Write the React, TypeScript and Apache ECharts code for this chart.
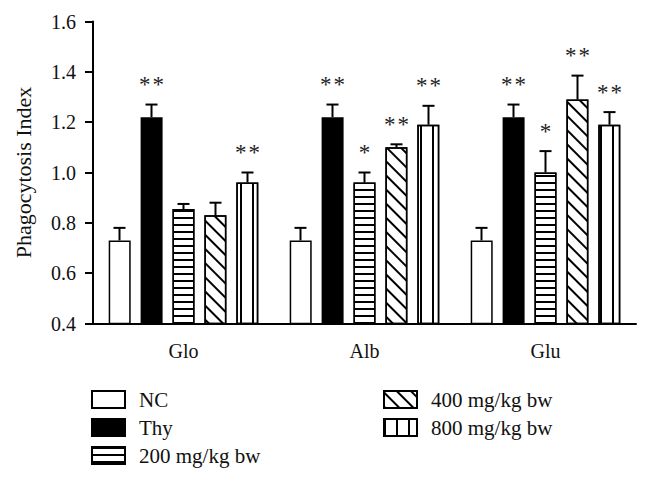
import React, { useEffect, useRef } from 'react';
import * as echarts from 'echarts';

const categories = ['Glo', 'Alb', 'Glu'];
const seriesNames = ['NC', 'Thy', '200 mg/kg bw', '400 mg/kg bw', '800 mg/kg bw'];

const ncMeans = [0.73, 0.73, 0.73];
const thyMeans = [1.22, 1.22, 1.22];
const d200Means = [0.855, 0.96, 1.0];
const d400Means = [0.83, 1.1, 1.29];
const d800Means = [0.96, 1.19, 1.19];

const ncErr = [0.05, 0.05, 0.05];
const thyErr = [0.05, 0.05, 0.05];
const d200Err = [0.02, 0.04, 0.085];
const d400Err = [0.05, 0.012, 0.095];
const d800Err = [0.04, 0.075, 0.05];

const ncStars = ['', '', ''];
const thyStars = ['**', '**', '**'];
const d200Stars = ['', '*', '*'];
const d400Stars = ['', '**', '**'];
const d800Stars = ['**', '**', '**'];

const yTickLabels = ['0.4', '0.6', '0.8', '1.0', '1.2', '1.4', '1.6'];

const allMeans = [ncMeans, thyMeans, d200Means, d400Means, d800Means];
const allErr = [ncErr, thyErr, d200Err, d400Err, d800Err];
const allStars = [ncStars, thyStars, d200Stars, d400Stars, d800Stars];

const FONT = 'Liberation Serif';
const BAR_W = 22;
const BAR_PITCH = 32;

const decals: any[] = [
  null,
  null,
  { symbol: 'rect', color: '#000', dashArrayX: [1, 0], dashArrayY: [1.3, 4.8], symbolSize: 1, rotation: 0 },
  { symbol: 'rect', color: '#000', dashArrayX: [1, 0], dashArrayY: [1.4, 8], symbolSize: 1, rotation: Math.PI / 4 },
  { symbol: 'rect', color: '#000', dashArrayX: [1.3, 9.7], dashArrayY: [1, 0], symbolSize: 1, rotation: 0 },
];
const fills = ['#fff', '#000', '#fff', '#fff', '#fff'];

export default function App() {
  const ref = useRef<HTMLDivElement>(null);
  useEffect(() => {
    const chart = echarts.init(ref.current!, null, { renderer: 'svg' });

    const barSeries = seriesNames.map((name, si) => ({
      name,
      type: 'bar',
      data: allMeans[si],
      barWidth: BAR_W,
      barGap: '45%',
      itemStyle: {
        color: fills[si],
        borderColor: '#000',
        borderWidth: 1.5,
        decal: decals[si] || undefined,
      },
      z: 2,
    }));

    const errData: any[] = [];
    allMeans.forEach((means, si) => {
      means.forEach((m, ci) => {
        errData.push([ci, m, allErr[si][ci], si]);
      });
    });

    const errSeries = {
      type: 'custom',
      name: 'err',
      z: 5,
      encode: { x: 0, y: 1 },
      data: errData,
      renderItem: (params: any, api: any) => {
        const ci = api.value(0);
        const m = api.value(1);
        const e = api.value(2);
        const si = api.value(3);
        const base = api.coord([ci, m]);
        const top = api.coord([ci, m + e]);
        const x = base[0] + (si - 2) * BAR_PITCH;
        const stars = allStars[si][ci];
        const children: any[] = [
          { type: 'line', shape: { x1: x, y1: base[1], x2: x, y2: top[1] }, style: { stroke: '#000', lineWidth: 2 } },
          { type: 'line', shape: { x1: x - 6, y1: top[1], x2: x + 6, y2: top[1] }, style: { stroke: '#000', lineWidth: 2 } },
        ];
        const n = stars.length;
        for (let k = 0; k < n; k++) {
          const sx = x + (k - (n - 1) / 2) * 13.5;
          children.push({
            type: 'text',
            style: {
              text: stars[k],
              x: sx,
              y: top[1] - 20,
              fill: '#222',
              fontSize: 23,
              fontFamily: FONT,
              align: 'center',
              verticalAlign: 'middle',
            },
          });
        }
        return { type: 'group', children };
      },
    };

    const legendCommon = {
      orient: 'vertical',
      itemWidth: 33,
      itemHeight: 17,
      itemGap: 7,
      icon: 'rect',
      padding: 0,
      textStyle: { fontFamily: FONT, fontSize: 21, color: '#111', padding: [0, 0, 0, 9] },
    };

    chart.setOption({
      animation: false,
      backgroundColor: '#fff',
      textStyle: { fontFamily: FONT },
      grid: { left: 93, right: 14, top: 21.5, bottom: 155.5 },
      legend: [
        { ...legendCommon, data: seriesNames.slice(0, 3), left: 91, top: 389 },
        { ...legendCommon, data: seriesNames.slice(3), left: 383, top: 389 },
      ],
      xAxis: {
        type: 'category',
        data: categories,
        axisLine: { lineStyle: { color: '#000', width: 2 } },
        axisTick: { alignWithLabel: true, length: 9, lineStyle: { color: '#000', width: 2 } },
        axisLabel: { fontFamily: FONT, fontSize: 20, color: '#111', margin: 17 },
      },
      yAxis: {
        type: 'value',
        min: 0.4,
        max: 1.6,
        interval: 0.2,
        name: 'Phagocytosis Index',
        nameLocation: 'middle',
        nameGap: 59,
        nameTextStyle: { fontFamily: FONT, fontSize: 22, color: '#111' },
        axisLine: { show: true, lineStyle: { color: '#000', width: 2 } },
        axisTick: { show: true, length: 8, lineStyle: { color: '#000', width: 2 } },
        splitLine: { show: false },
        axisLabel: {
          fontFamily: FONT,
          fontSize: 20,
          color: '#111',
          margin: 17,
          formatter: (v: number) => {
            const idx = Math.round((v - 0.4) / 0.2);
            return yTickLabels[idx] ?? v.toFixed(1);
          },
        },
      },
      series: [...barSeries, errSeries],
    });
    return () => chart.dispose();
  }, []);
  return <div ref={ref} style={{ position: 'fixed', left: 0, top: 0, width: 650, height: 479 }} />;
}
